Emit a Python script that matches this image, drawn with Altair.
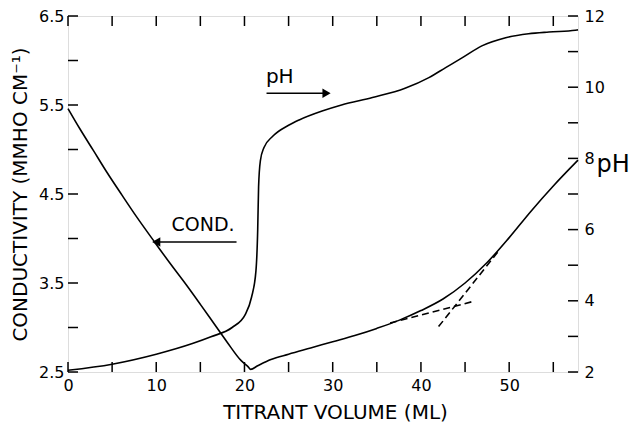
import altair as alt
import pandas as pd

# ---- data ----
cond_x = [0, 1.36, 2.87, 4.37, 6.1, 7.8, 9.6, 11.5, 13.4, 15.0, 16.5, 18.0, 19.6,
          20.4, 20.7, 21.5, 23, 25, 27.5, 30, 32.5, 35, 37.5, 40, 42.5, 45, 47.5, 50, 52.5, 55, 57.8]
cond_v = [5.46, 5.23, 4.99, 4.75, 4.49, 4.24, 3.99, 3.73, 3.48, 3.26, 3.05, 2.84, 2.63,
          2.56, 2.53, 2.57, 2.64, 2.70, 2.77, 2.84, 2.91, 2.99, 3.08, 3.19, 3.32, 3.50, 3.73, 4.01,
          4.31, 4.59, 4.88]

ph_x = [0, 5, 10, 14.1, 16.2, 18.6, 20.1, 20.8, 21.3, 21.5, 21.6, 21.8, 22.2, 23.2, 25.0, 26.2,
        28.8, 31, 34.5, 38.2, 40.9, 42.8, 44.7, 46.9, 49.6, 52.2, 54.5, 57.5, 57.8]
ph_v = [2.05, 2.22, 2.5, 2.8, 2.99, 3.25, 3.62, 4.1, 4.84, 6.0, 7.2, 7.93, 8.3, 8.62, 8.93, 9.08,
        9.33, 9.5, 9.71, 9.97, 10.27, 10.55, 10.83, 11.16, 11.39, 11.5, 11.55, 11.6, 11.61]

dash_seg = ["a", "a", "b", "b"]
dash_x = [36.5, 45.8, 42.0, 48.8]
dash_v = [3.05, 3.29, 3.01, 3.86]

x_ticks = [0, 5, 10, 15, 20, 25, 30, 35, 40, 45, 50, 55]
x_labels = [0, 10, 20, 30, 40, 50]
cond_ticks = [2.5, 3.0, 3.5, 4.0, 4.5, 5.0, 5.5, 6.0, 6.5]
cond_labels = [2.5, 3.5, 4.5, 5.5, 6.5]
ph_ticks = [2, 3, 4, 5, 6, 7, 8, 9, 10, 11, 12]
ph_labels = [2, 4, 6, 8, 10, 12]

# annotations (data coordinates)
cond_note = {"x": 15.3, "cond": 4.15, "text": "COND."}
cond_arrow_x = [10.0, 19.1]
cond_arrow_v = 3.96
ph_note = {"x": 24.0, "ph": 10.12, "text": "pH"}
ph_arrow_x = [22.5, 29.3]
ph_arrow_v = 9.83

W, H = 510, 356
FONT = "DejaVu Sans"
XDOM = [0, 57.8]

xs = alt.Scale(domain=XDOM, nice=False, zero=False)
cs = alt.Scale(domain=[2.5, 6.5], nice=False, zero=False)
ps = alt.Scale(domain=[2, 12], nice=False, zero=False)

x_axis = alt.Axis(values=x_labels, ticks=False, domain=False, grid=False,
                  labelFontSize=16, labelPadding=5, labelFlush=False, labelColor="black",
                  title="TITRANT VOLUME (ML)", titleFontSize=20, titleFontWeight="normal",
                  titlePadding=9, titleColor="black", titleX=W / 2 + 12)
cond_axis = alt.Axis(values=cond_labels, format=".1f", ticks=False, domain=False, grid=False,
                     labelFontSize=16, labelPadding=4, labelFlush=False, labelColor="black",
                     title="CONDUCTIVITY (MMHO CM\u207b\u00b9)", titleFontSize=20,
                     titleFontWeight="normal", titlePadding=8, titleColor="black")
ph_axis = alt.Axis(orient="right", values=ph_labels, ticks=False, domain=False, grid=False,
                   labelFontSize=16, labelPadding=6, labelFlush=False, labelColor="black",
                   title="pH", titleAngle=0, titleFontSize=24, titleFontWeight="normal",
                   titleAlign="left", titleBaseline="middle", titleX=18, titleY=148,
                   titleColor="black")

X = alt.X("x:Q", scale=xs, axis=x_axis)

cond_df = pd.DataFrame({"x": cond_x, "cond": cond_v})
ph_df = pd.DataFrame({"x": ph_x, "ph": ph_v})
dash_df = pd.DataFrame({"seg": dash_seg, "x": dash_x, "cond": dash_v})

cond_line = alt.Chart(cond_df).mark_line(color="black", strokeWidth=1.6, interpolate="monotone").encode(
    x=X, y=alt.Y("cond:Q", scale=cs, axis=cond_axis))
dash_line = alt.Chart(dash_df).mark_line(color="black", strokeWidth=1.6, strokeDash=[7, 4]).encode(
    x=X, y=alt.Y("cond:Q", scale=cs, axis=cond_axis), detail="seg:N")

left_ticks = alt.Chart(pd.DataFrame({"cond": cond_ticks})).mark_rule(color="black", strokeWidth=1.5).encode(
    y=alt.Y("cond:Q", scale=cs, axis=cond_axis), x=alt.value(0), x2=alt.value(10))
bottom_ticks = alt.Chart(pd.DataFrame({"x": x_ticks})).mark_rule(color="black", strokeWidth=1.5).encode(
    x=X, y=alt.value(H), y2=alt.value(H - 10))
top_ticks = alt.Chart(pd.DataFrame({"x": x_ticks})).mark_rule(color="black", strokeWidth=1.5).encode(
    x=X, y=alt.value(0), y2=alt.value(10))

cond_text = alt.Chart(pd.DataFrame([cond_note])).mark_text(
    font=FONT, fontSize=19, color="black", align="center", baseline="middle").encode(
    x=X, y=alt.Y("cond:Q", scale=cs, axis=cond_axis), text="text:N")
cond_arrow = alt.Chart(pd.DataFrame({"x": cond_arrow_x, "cond": [cond_arrow_v] * 2})).mark_line(
    color="black", strokeWidth=1.6).encode(x=X, y=alt.Y("cond:Q", scale=cs, axis=cond_axis))
cond_head = alt.Chart(pd.DataFrame({"x": [cond_arrow_x[0]], "cond": [cond_arrow_v]})).mark_point(
    shape="triangle-left", filled=True, color="black", size=90, opacity=1).encode(
    x=X, y=alt.Y("cond:Q", scale=cs, axis=cond_axis))

layer_cond = alt.layer(cond_line, dash_line, left_ticks, bottom_ticks, top_ticks,
                       cond_text, cond_arrow, cond_head)

ph_line = alt.Chart(ph_df).mark_line(color="black", strokeWidth=1.6, interpolate="monotone").encode(
    x=X, y=alt.Y("ph:Q", scale=ps, axis=ph_axis))
right_ticks = alt.Chart(pd.DataFrame({"ph": ph_ticks})).mark_rule(color="black", strokeWidth=1.5).encode(
    y=alt.Y("ph:Q", scale=ps, axis=ph_axis), x=alt.value(W), x2=alt.value(W - 10))
ph_text = alt.Chart(pd.DataFrame([ph_note])).mark_text(
    font=FONT, fontSize=20, color="black", align="center", baseline="alphabetic").encode(
    x=X, y=alt.Y("ph:Q", scale=ps, axis=ph_axis), text="text:N")
ph_arrow = alt.Chart(pd.DataFrame({"x": ph_arrow_x, "ph": [ph_arrow_v] * 2})).mark_line(
    color="black", strokeWidth=1.6).encode(x=X, y=alt.Y("ph:Q", scale=ps, axis=ph_axis))
ph_head = alt.Chart(pd.DataFrame({"x": [ph_arrow_x[1]], "ph": [ph_arrow_v]})).mark_point(
    shape="triangle-right", filled=True, color="black", size=90, opacity=1).encode(
    x=X, y=alt.Y("ph:Q", scale=ps, axis=ph_axis))

layer_ph = alt.layer(ph_line, right_ticks, ph_text, ph_arrow, ph_head)

chart = alt.layer(layer_cond, layer_ph).resolve_scale(y="independent").properties(
    width=W, height=H,
    autosize=alt.AutoSizeParams(type="none"),
    padding={"left": 60, "top": 8, "right": 56, "bottom": 54},
).configure_view(stroke="black", strokeWidth=1.6).configure(
    font=FONT, background="white")

chart.save("out.html", embed_options={"renderer": "svg", "actions": False})
